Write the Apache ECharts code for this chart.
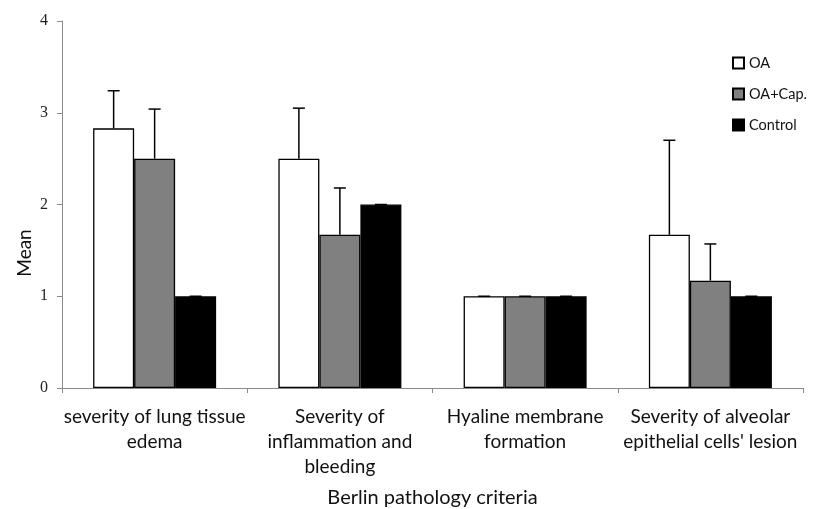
<!DOCTYPE html>
<html>
<head>
<meta charset="utf-8">
<script src="https://cdn.jsdelivr.net/npm/echarts@6/dist/echarts.min.js"></script>
<style>
	html, body { margin: 0; padding: 0; background: #fff; }
	#chart { width: 818px; height: 509px; }
</style>
</head>
<body>
<div id="chart"></div>
<script>
// categories on the x axis
var categories = [
	'severity of lung tissue\nedema',
	'Severity of\ninflammation and\nbleeding',
	'Hyaline membrane\nformation',
	"Severity of alveolar\nepithelial cells' lesion"
];
var seriesNames = ['OA', 'OA+Cap.', 'Control'];

// means
var oa = [2.83, 2.5, 1, 1.67];
var oaCap = [2.5, 1.67, 1, 1.17];
var control = [1, 2, 1, 1];

// upper error (SD)
var oaErr = [0.41, 0.55, 0, 1.03];
var oaCapErr = [0.54, 0.51, 0, 0.4];
var controlErr = [0, 0, 0, 0];

var yTicks = [0, 1, 2, 3, 4];

var BAR_W = 41;
var fills = ['#ffffff', '#808080', '#000000'];
var means = [oa, oaCap, control];
var errs = [oaErr, oaCapErr, controlErr];

function errorSeries(k) {
	var data = means[k].map(function(v, i) {
		return [i, v, v + errs[k][i]];
	});
	return {
		type: 'custom',
		name: seriesNames[k],
		z: 5,
		silent: true,
		data: data,
		renderItem: function(params, api) {
			var lo = api.coord([api.value(0), api.value(1)]);
			var hi = api.coord([api.value(0), api.value(2)]);
			var x = lo[0] + (k - 1) * BAR_W;
			var style = { stroke: '#000', lineWidth: 1.5 };
			return {
				type: 'group',
				children: [
					{ type: 'line', shape: { x1: x, y1: lo[1], x2: x, y2: hi[1] }, style: style },
					{ type: 'line', shape: { x1: x - 6, y1: hi[1], x2: x + 6, y2: hi[1] }, style: style }
				]
			};
		}
	};
}

var chart = echarts.init(document.getElementById('chart'));

var series = [];
for (var k = 0; k < 3; k++) {
	series.push({
		type: 'bar',
		name: seriesNames[k],
		data: means[k],
		barWidth: BAR_W,
		barGap: '0%',
		itemStyle: { color: fills[k], borderColor: '#000', borderWidth: 1.3 }
	});
}
for (var k = 0; k < 3; k++) {
	series.push(errorSeries(k));
}

chart.setOption({
	animation: false,
	backgroundColor: '#fff',
	grid: { left: 62, right: 15, top: 21, bottom: 121, outerBoundsMode: 'none' },
	legend: {
		orient: 'vertical',
		left: 732,
		top: 55,
		padding: 0,
		itemWidth: 11,
		itemHeight: 11,
		itemGap: 15,
		icon: 'rect',
		data: seriesNames,
		textStyle: { fontFamily: 'Lato', fontSize: 14.5, color: '#111', lineHeight: 16 }
	},
	xAxis: {
		type: 'category',
		data: categories,
		name: 'Berlin pathology criteria',
		nameLocation: 'middle',
		nameGap: 100,
		nameTextStyle: { fontFamily: 'Lato', fontSize: 20, color: '#111' },
		axisLine: { lineStyle: { color: '#8a8a8a', width: 1 } },
		axisTick: { show: true, interval: 0, length: 5, lineStyle: { color: '#8a8a8a' } },
		axisLabel: {
			interval: 0,
			margin: 16,
			fontFamily: 'Lato',
			fontSize: 19,
			lineHeight: 25,
			color: '#111'
		}
	},
	yAxis: {
		type: 'value',
		min: yTicks[0],
		max: yTicks[yTicks.length - 1],
		interval: 1,
		splitLine: { show: false },
		axisLine: { show: true, lineStyle: { color: '#8a8a8a', width: 1 } },
		axisTick: { show: true, length: 5, lineStyle: { color: '#8a8a8a' } },
		axisLabel: { margin: 14, fontFamily: 'Liberation Serif', fontSize: 16, color: '#222' }
	},
	graphic: [{
		type: 'text',
		x: 25,
		y: 253,
		rotation: Math.PI / 2,
		style: { text: 'Mean', x: 0, y: 0, align: 'center', verticalAlign: 'middle', fontFamily: 'Lato', fontSize: 19, fill: '#111' }
	}],
	series: series
});
</script>
</body>
</html>
